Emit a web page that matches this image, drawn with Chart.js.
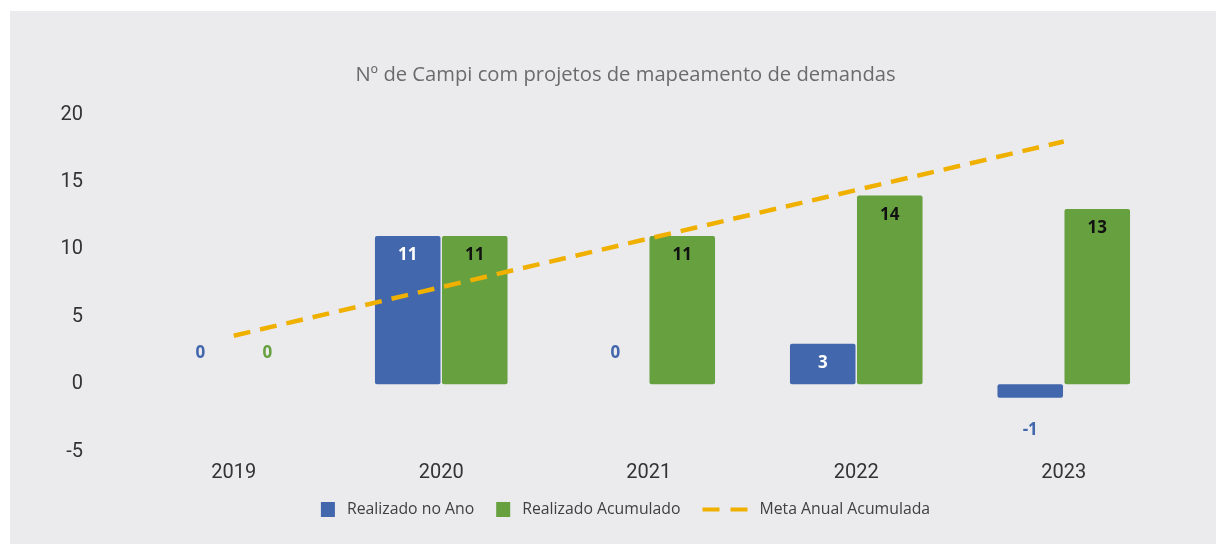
<!DOCTYPE html>
<html>
<head>
<meta charset="utf-8">
<script src="https://cdn.jsdelivr.net/npm/chart.js@4"></script>
<style>
	body { margin: 0; background: #ffffff; }
	#painel { position: absolute; left: 10px; top: 11px; width: 1206px; height: 533px; background: #ebebed; }
</style>
</head>
<body>
<div id="painel"><canvas id="chartCampi" width="1206" height="533"></canvas></div>
<script>
const chartCampi = document.getElementById("chartCampi");

// Dados
const anos = ["2019", "2020", "2021", "2022", "2023"];
const realizadoAno = [0, 11, 0, 3, -1];
const realizadoAcumulado = [0, 11, 11, 14, 13];
const metaAcumulada = [3.6, 7.2, 10.8, 14.4, 18];

const titulo = 'Nº de Campi com projetos de mapeamento de demandas';
const corAzul = '#4267ac';
const corVerde = '#66a03f';
const corMeta = '#f0b000';

// centro do titulo e da legenda (nao e o centro da area do grafico)
const centroTexto = 615.5;

// rótulos das barras
const rotulosPlugin = {
	id: 'rotulos',
	afterDatasetsDraw(chart) {
		const ctx = chart.ctx;
		ctx.save();
		ctx.font = "bold 17px 'Open Sans'";
		ctx.textAlign = 'center';
		ctx.textBaseline = 'middle';
		[0, 1].forEach(function(i) {
			const ds = chart.data.datasets[i];
			chart.getDatasetMeta(i).data.forEach(function(bar, j) {
				const v = ds.data[j];
				let y;
				if (v > 0) {
					y = bar.y + 19.5;
					ctx.fillStyle = i == 0 ? '#ffffff' : '#111111';
				} else if (v == 0) {
					y = bar.y - 31;
					ctx.fillStyle = ds.backgroundColor;
				} else {
					y = bar.y + 32;
					ctx.fillStyle = ds.backgroundColor;
				}
				ctx.fillText(String(v), bar.x, y);
			});
		});
		ctx.restore();
	}
};

// titulo e legenda desenhados
const textosPlugin = {
	id: 'textos',
	afterDraw(chart) {
		const ctx = chart.ctx;
		ctx.save();
		ctx.textBaseline = 'middle';

		ctx.font = "20.2px 'Open Sans'";
		ctx.textAlign = 'center';
		ctx.fillStyle = '#6b6b6b';
		ctx.fillText(titulo, centroTexto, 64.5);

		const y = 498.5;
		ctx.textAlign = 'left';
		ctx.font = "15.8px 'Open Sans'";
		const itens = [
			{ texto: 'Realizado no Ano', cor: corAzul, tipo: 'caixa' },
			{ texto: 'Realizado Acumulado', cor: corVerde, tipo: 'caixa' },
			{ texto: 'Meta Anual Acumulada', cor: corMeta, tipo: 'linha' }
		];
		let total = 0;
		itens.forEach(function(it) {
			it.w = (it.tipo == 'caixa' ? 14 : 45) + 12 + ctx.measureText(it.texto).width;
			total += it.w;
		});
		total += 22 * (itens.length - 1);
		let x = centroTexto - total / 2;
		itens.forEach(function(it) {
			let simbolo;
			if (it.tipo == 'caixa') {
				ctx.fillStyle = it.cor;
				ctx.fillRect(x, y - 7.5, 14, 15);
				simbolo = 14;
			} else {
				ctx.strokeStyle = it.cor;
				ctx.lineWidth = 4;
				ctx.setLineDash([17, 11]);
				ctx.beginPath();
				ctx.moveTo(x, y);
				ctx.lineTo(x + 45, y);
				ctx.stroke();
				ctx.setLineDash([]);
				simbolo = 45;
			}
			ctx.fillStyle = '#404040';
			ctx.fillText(it.texto, x + simbolo + 12, y);
			x += it.w + 22;
		});
		ctx.restore();
	}
};

const campiChart = new Chart(chartCampi, {
	type: 'bar',
	data: {
		labels: anos,
		datasets: [{
			label: 'Realizado no Ano',
			data: realizadoAno,
			backgroundColor: corAzul,
			borderRadius: 2,
			borderSkipped: false,
			categoryPercentage: 0.646,
			barPercentage: 0.978,
			order: 1
		}, {
			label: 'Realizado Acumulado',
			data: realizadoAcumulado,
			backgroundColor: corVerde,
			borderRadius: 2,
			borderSkipped: false,
			categoryPercentage: 0.646,
			barPercentage: 0.978,
			order: 1
		}, {
			type: 'line',
			label: 'Meta Anual Acumulada',
			data: metaAcumulada,
			borderColor: corMeta,
			backgroundColor: corMeta,
			borderWidth: 4.5,
			borderDash: [17, 10],
			pointRadius: 0,
			fill: false,
			order: 0
		}]
	},
	options: {
		responsive: false,
		animation: false,
		layout: {
			padding: { left: 0, right: 48.5, top: 103.5, bottom: 49.3 }
		},
		plugins: {
			legend: { display: false },
			tooltip: { enabled: false },
			title: { display: false }
		},
		scales: {
			x: {
				grid: { display: false, drawTicks: false },
				border: { display: false },
				ticks: {
					color: '#333333',
					padding: 9.5,
					font: { family: 'Roboto', size: 20 }
				}
			},
			y: {
				min: -5,
				max: 20,
				afterFit: function(scale) { scale.width = 120; },
				grid: { display: false, drawTicks: false },
				border: { display: false },
				ticks: {
					stepSize: 5,
					color: '#333333',
					padding: 47,
					font: { family: 'Roboto', size: 20 }
				}
			}
		}
	},
	plugins: [rotulosPlugin, textosPlugin]
});
</script>
</body>
</html>
